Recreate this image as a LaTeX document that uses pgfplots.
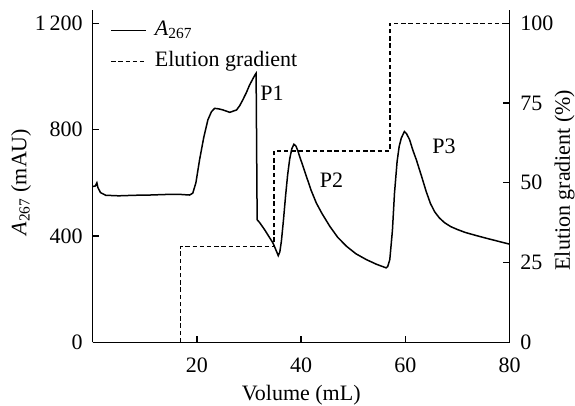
\documentclass[border=0pt]{standalone}
\usepackage{fontspec}
\setmainfont{Liberation Serif}
\usepackage{pgfplots}
\pgfplotsset{compat=1.18}

% Absorbance trace (mL, mAU)
\pgfplotstableread{
x y
0 586
0.5 588
0.8 600
1.0 582
1.5 563
2.5 553
5 551
8 553
11 554
14 556
17 556
18.6 554
19.2 561
19.8 600
20.5 686
21.3 770
22.1 837
22.8 868
23.4 880
24.2 878
25 874
26.3 865
27.6 874
28.2 890
28.8 912
29.5 940
30.1 968
30.7 990
31.2 1008
31.35 1012
31.55 461
32 451
33 423
34.6 373
35.2 345
35.6 326
35.9 340
36.2 380
36.6 460
37.0 550
37.4 630
37.8 690
38.2 728
38.6 745
39.0 738
39.4 718
39.7 699
40.3 665
41 624
41.9 572
42.9 524
44 484
45.5 436
47 395
48.7 361
50.5 333
52.5 311
54.5 293
56.3 280
56.6 285
57 311
57.5 420
57.9 561
58.4 680
58.8 737
59.2 768
59.8 793
60.2 785
60.8 762
61.4 724
62.1 686
63.1 624
64 566
64.8 522
65.6 491
66.5 468
67.5 450
68.7 435
70 424
71.5 413
73.5 402
75.6 391
78 379
80 369
}\absorb

% Step gradient (mL, %)
\pgfplotstableread{
x g
16.8 0
16.8 30
34.8 30
34.8 60
57 60
57 100
80 100
}\grad

\begin{document}
\fontsize{11}{13}\selectfont
\begin{tikzpicture}
\pgfplotsset{
  base/.style={
    scale only axis, width=208.5pt, height=166.15pt,
    xmin=0, xmax=80,
    tick align=inside, major tick length=3.3pt,
    axis line style={line width=0.7pt},
    every tick/.style={black, line width=0.7pt},
    /pgf/number format/assume math mode=true,
    tick label style={font=\fontsize{11}{13}\selectfont},
    label style={font=\fontsize{11}{13}\selectfont},
  }
}
\begin{axis}[base, name=ax,
  axis x line*=bottom, axis y line*=left,
  ymin=0, ymax=1250,
  xtick={20,40,60,80},
  ytick={0,400,800,1200},
  yticklabels={0,400,800,1\,200},
  xticklabel style={yshift=-4pt},
  yticklabel style={xshift=-1.2pt},
  xlabel={Volume (mL)},
  xlabel style={at={(axis description cs:0.5,-0.16)}, anchor=center},
  ylabel={\textit{A}\textsubscript{267} (mAU)},
  ylabel style={at={(axis description cs:-0.172,0.482)}, anchor=center},
  legend style={draw=none, fill=none, at={(axis description cs:0.0415,0.97)},
    anchor=north west, inner sep=0pt, row sep=5.5pt, column sep=4pt,
    nodes={inner sep=0pt, text height=7.5pt, text depth=2.5pt},
    font=\fontsize{11}{13}\selectfont},
  legend cell align=left,
  legend image code/.code={\draw[#1] (0pt,0pt) -- (17.5pt,0pt);},
]
\addplot[black, line width=0.75pt] table[x=x, y=y] {\absorb};
\addlegendentry{\textit{A}\textsubscript{267}}
\addlegendimage{black, line width=0.7pt, dash pattern=on 2.2pt off 1.4pt}
\addlegendentry{Elution gradient}
\node[anchor=center] at (axis cs:34.4,938) {P1};
\node[anchor=center] at (axis cs:45.8,610) {P2};
\node[anchor=center] at (axis cs:67.4,737) {P3};
\end{axis}
\begin{axis}[base,
  axis x line=none, axis y line*=right,
  ymin=0, ymax=104.17,
  ytick={0,25,50,75,100},
  yticklabel style={xshift=1.5pt},
  ylabel={Elution gradient (\%)},
  ylabel style={at={(axis description cs:1.132,0.488)}, anchor=center},
]
\addplot[black, line width=0.7pt, dash pattern=on 2.2pt off 1.4pt] table[x=x, y=g] {\grad};
\end{axis}
\pgfresetboundingbox
\path (ax.south west) ++(-46.35pt,-31.85pt) rectangle ++(287.5pt,203pt);
\end{tikzpicture}
\end{document}
